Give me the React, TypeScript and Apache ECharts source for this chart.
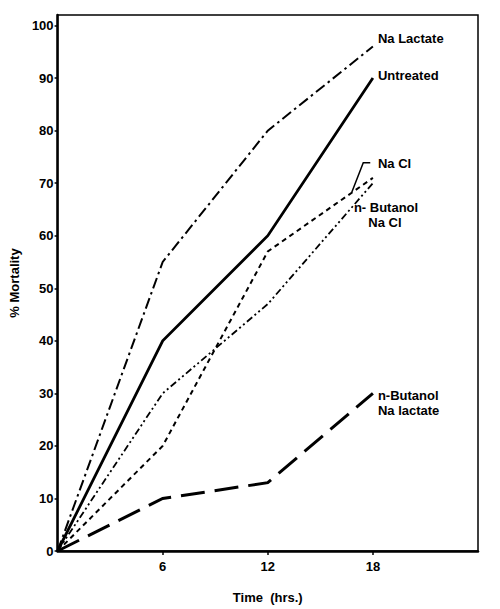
import React, { useEffect, useRef } from "react";
import * as echarts from "echarts";

// Exposure time (hrs.) at which mortality was recorded
const hours = [0, 6, 12, 18];

// % Mortality per treatment
const untreated = [0, 40, 60, 90];
const naLactate = [0, 55, 80, 96];
const naCl = [0, 20, 57, 71];
const butanolNaCl = [0, 30, 47, 70];
const butanolNaLactate = [0, 10, 13, 30];

const xTicks = [6, 12, 18];
const yTicks = [0, 10, 20, 30, 40, 50, 60, 70, 80, 90, 100];

const FONT = "Liberation Sans, Arial, sans-serif";

const pairs = (ys: number[]) => hours.map((h, i) => [h, ys[i]]);

export default function App() {
  const ref = useRef<HTMLDivElement>(null);

  useEffect(() => {
    document.body.style.margin = "0";
    if (!ref.current) return;
    const chart = echarts.init(ref.current, null, { renderer: "svg" });

    const labelStyle = {
      show: true,
      color: "#000",
      fontFamily: FONT,
      fontWeight: "bold" as const,
      fontSize: 13,
      lineHeight: 15,
      align: "left" as const,
    };

    const mkSeries = (
      name: string,
      ys: number[],
      width: number,
      type: any,
      label: any
    ) => ({
      name,
      type: "line",
      data: pairs(ys),
      symbol: "none",
      lineStyle: { color: "#000", width, type, cap: "butt", join: "miter" },
      endLabel: { ...labelStyle, ...label },
      z: 3,
    });

    chart.setOption({
      animation: false,
      backgroundColor: "#fff",
      grid: {
        left: 56,
        right: 22,
        top: 15,
        bottom: 55,
        show: true,
        borderColor: "#000",
        borderWidth: 1.5,
      },
      xAxis: {
        type: "value",
        min: 0,
        max: 24,
        interval: 6,
        name: "Time  (hrs.)",
        nameLocation: "middle",
        nameGap: 40,
        nameTextStyle: {
          color: "#000",
          fontFamily: FONT,
          fontWeight: "bold",
          fontSize: 13,
        },
        splitLine: { show: false },
        axisLine: { lineStyle: { color: "#000", width: 2.5 } },
        axisTick: {
          show: true,
          length: 4,
          customValues: xTicks,
          lineStyle: { color: "#000", width: 1.5 },
        },
        axisLabel: {
          customValues: xTicks,
          color: "#000",
          fontFamily: FONT,
          fontWeight: "bold",
          fontSize: 13,
          margin: 9,
        },
      },
      yAxis: {
        type: "value",
        min: 0,
        max: 102,
        name: "% Mortality",
        nameLocation: "middle",
        nameRotate: 90,
        nameGap: 35,
        nameTextStyle: {
          color: "#000",
          fontFamily: FONT,
          fontWeight: "bold",
          fontSize: 13,
        },
        splitLine: { show: false },
        axisLine: { show: true, lineStyle: { color: "#000", width: 2.5 } },
        axisTick: {
          show: true,
          length: 3,
          customValues: yTicks,
          lineStyle: { color: "#000", width: 1.5 },
        },
        axisLabel: {
          customValues: yTicks,
          color: "#000",
          fontFamily: FONT,
          fontWeight: "bold",
          fontSize: 13,
          margin: 4,
        },
      },
      series: [
        mkSeries("Na Lactate", naLactate, 2, [11, 4, 2.5, 4], {
          formatter: "Na Lactate",
          offset: [-3, -8],
        }),
        mkSeries("Untreated", untreated, 2.8, "solid", {
          formatter: "Untreated",
          offset: [-3, -3],
        }),
        mkSeries("Na Cl", naCl, 2, [5, 4], {
          formatter: "Na Cl",
          offset: [-3, -14],
        }),
        mkSeries("n-Butanol Na Cl", butanolNaCl, 1.8, [7, 3, 2, 3, 2, 3], {
          formatter: "n- Butanol\n    Na Cl",
          offset: [-27, 32],
        }),
        mkSeries("n-Butanol Na lactate", butanolNaLactate, 3, [24, 10], {
          formatter: "n-Butanol\nNa lactate",
          offset: [-3, 10],
        }),
      ],
    });

    // Leader line tying the "Na Cl" label to its curve
    const a = chart.convertToPixel({ gridIndex: 0 }, [16.8, 68.3]) as number[];
    const b = chart.convertToPixel({ gridIndex: 0 }, [17.45, 73.9]) as number[];
    chart.setOption({
      graphic: [
        {
          type: "polyline",
          shape: {
            points: [
              [a[0], a[1]],
              [b[0], b[1]],
              [b[0] + 7, b[1]],
            ],
          },
          style: { stroke: "#000", lineWidth: 1.5, fill: "none" },
          z: 10,
        },
      ],
    });

    return () => chart.dispose();
  }, []);

  return <div ref={ref} style={{ width: 500, height: 609 }} />;
}
